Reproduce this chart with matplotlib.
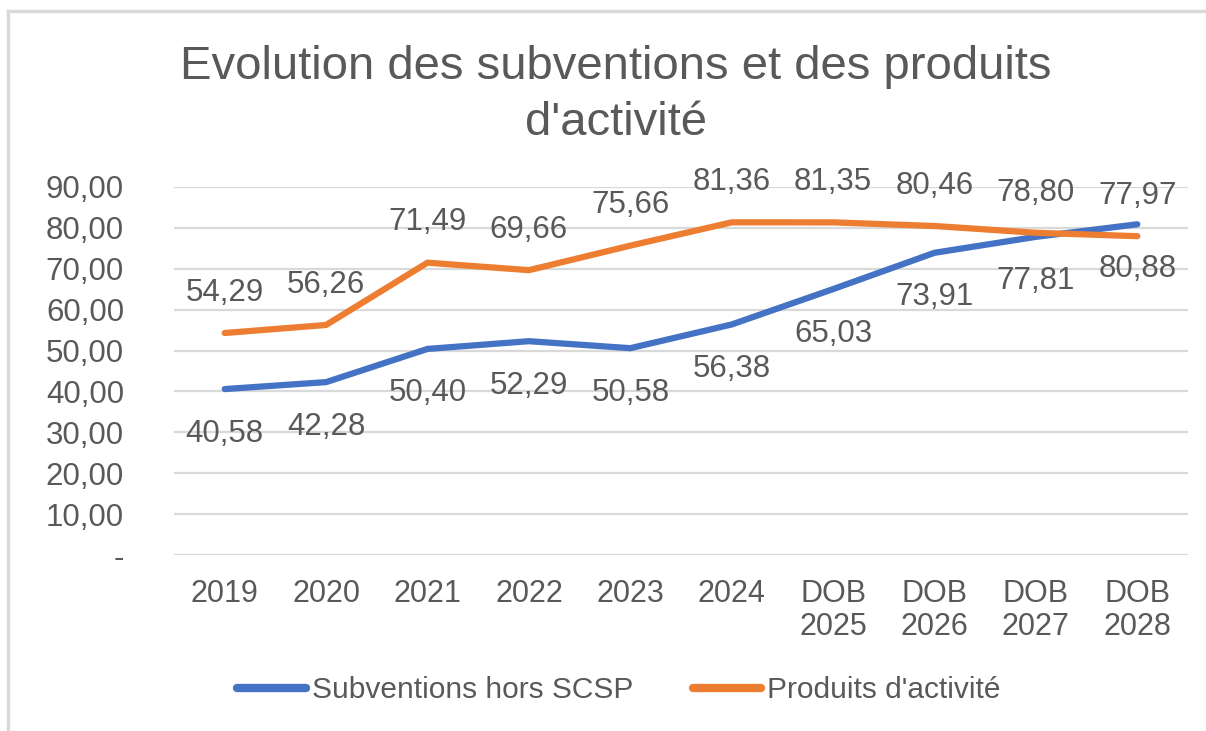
import matplotlib.pyplot as plt
from matplotlib.lines import Line2D

categories = ["2019", "2020", "2021", "2022", "2023", "2024",
              "DOB\n2025", "DOB\n2026", "DOB\n2027", "DOB\n2028"]
subventions = [40.58, 42.28, 50.40, 52.29, 50.58, 56.38, 65.03, 73.91, 77.81, 80.88]
produits = [54.29, 56.26, 71.49, 69.66, 75.66, 81.36, 81.35, 80.46, 78.80, 77.97]
y_ticks = [0, 10, 20, 30, 40, 50, 60, 70, 80, 90]
y_labels = ["-", "10,00", "20,00", "30,00", "40,00", "50,00",
            "60,00", "70,00", "80,00", "90,00"]

plt.rcParams["font.family"] = ["Liberation Sans", "DejaVu Sans"]
grey = "#595959"
blue = "#4472C4"
orange = "#ED7D31"

fig = plt.figure(figsize=(12.06, 7.31), dpi=100)
ax = fig.add_axes([174 / 1206, 1 - 555 / 731, (1188 - 174) / 1206, (555 - 187) / 731])

x = range(len(categories))
ax.plot(x, subventions, color=blue, lw=4.5, solid_capstyle="round",
        label="Subventions hors SCSP", zorder=3)
ax.plot(x, produits, color=orange, lw=4.5, solid_capstyle="round",
        label="Produits d'activité", zorder=3)

def fmt(v):
    return f"{v:.2f}".replace(".", ",")

for i, (s, p) in enumerate(zip(subventions, produits)):
    ax.annotate(fmt(p), (i, p), xytext=(0, 29), textcoords="offset points",
                ha="center", va="center", fontsize=22.5, color=grey,
                annotation_clip=False)
    ax.annotate(fmt(s), (i, s), xytext=(0, -32), textcoords="offset points",
                ha="center", va="center", fontsize=22.5, color=grey,
                annotation_clip=False)

ax.set_xlim(-0.5, len(categories) - 0.5)
ax.set_ylim(0, 90)
ax.set_yticks(y_ticks)
ax.set_yticklabels(y_labels)
ax.set_xticks(list(x))
ax.set_xticklabels(categories, linespacing=1.15)
ax.tick_params(axis="y", length=0, pad=36, labelsize=22.5, labelcolor=grey)
ax.tick_params(axis="x", length=0, pad=17, labelsize=22, labelcolor=grey)
ax.grid(axis="y", color="#D9D9D9", lw=1.6)
ax.set_axisbelow(True)
for sp in ax.spines.values():
    sp.set_visible(False)

fig.text(616 / 1206, 1 - 95 / 731, "Evolution des subventions et des produits\nd'activité",
         ha="center", va="center", fontsize=34, color=grey, linespacing=1.36)

leg = fig.legend(loc="center", bbox_to_anchor=(619 / 1206, 1 - 690 / 731),
                 ncol=2, frameon=False, fontsize=21.5, handlelength=2.3,
                 handletextpad=0.2, columnspacing=2.0)
for t in leg.get_texts():
    t.set_color(grey)
for h in leg.get_lines():
    h.set_linewidth(6)

# light chart border (top and left visible)
fig.add_artist(Line2D([8 / 1206, 8 / 1206], [0, 1 - 11 / 731],
                      transform=fig.transFigure, color="#D9D9D9", lw=2.5))
fig.add_artist(Line2D([8 / 1206, 1], [1 - 11 / 731, 1 - 11 / 731],
                      transform=fig.transFigure, color="#D9D9D9", lw=2.5))

fig.savefig("out.png", dpi=100)
